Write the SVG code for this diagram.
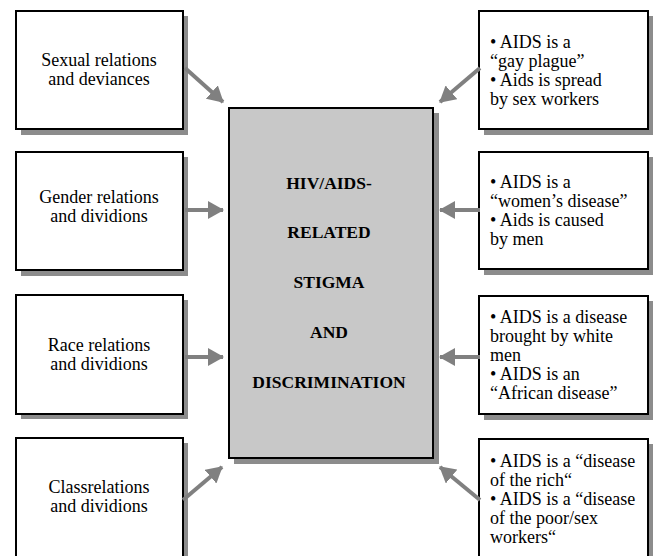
<svg xmlns="http://www.w3.org/2000/svg" width="655" height="556" viewBox="0 0 655 556">
<style>
.box{fill:#fff;stroke:#000;stroke-width:2}
.sh{fill:#8c8c8c}
.c{text-anchor:middle}
.b{font-weight:bold}
.ar{stroke:#808080;stroke-width:4;fill:none}
</style>
<defs>
<marker id="ah" markerUnits="userSpaceOnUse" markerWidth="16" markerHeight="18" refX="15" refY="9" orient="auto">
<polygon points="0,0 16,9 0,18" fill="#808080"/>
</marker>
</defs>
<rect width="655" height="556" fill="#fff"/>
<g id="center">
<rect class="sh" x="234" y="113" width="205" height="351"/>
<rect x="229" y="108" width="204" height="350" fill="#c8c8c8" stroke="#000" stroke-width="2"/>
<text font-family="Liberation Serif" font-size="17.5" class="c b" x="329" y="189">HIV/AIDS-</text>
<text font-family="Liberation Serif" font-size="17.5" class="c b" x="329" y="238">RELATED</text>
<text font-family="Liberation Serif" font-size="17.5" class="c b" x="329" y="288">STIGMA</text>
<text font-family="Liberation Serif" font-size="17.5" class="c b" x="329" y="338">AND</text>
<text font-family="Liberation Serif" font-size="17.5" class="c b" x="329" y="388">DISCRIMINATION</text>
</g>
<g id="l1">
<rect class="sh" x="21" y="16" width="167" height="119"/>
<rect class="box" x="16" y="11" width="167" height="118"/>
<text font-family="Liberation Serif" font-size="18" class="c" x="99" y="66">Sexual relations</text>
<text font-family="Liberation Serif" font-size="18" class="c" x="99" y="85">and deviances</text>
</g>
<g id="l2">
<rect class="sh" x="21" y="157" width="167" height="119"/>
<rect class="box" x="16" y="152" width="167" height="118"/>
<text font-family="Liberation Serif" font-size="18" class="c" x="99" y="203">Gender relations</text>
<text font-family="Liberation Serif" font-size="18" class="c" x="99" y="222">and dividions</text>
</g>
<g id="l3">
<rect class="sh" x="21" y="300" width="167" height="119"/>
<rect class="box" x="16" y="295" width="167" height="119"/>
<text font-family="Liberation Serif" font-size="18" class="c" x="99" y="351">Race relations</text>
<text font-family="Liberation Serif" font-size="18" class="c" x="99" y="370">and dividions</text>
</g>
<g id="l4">
<rect class="sh" x="21" y="443" width="167" height="130"/>
<rect class="box" x="16" y="438" width="167" height="130"/>
<text font-family="Liberation Serif" font-size="18" class="c" x="99" y="493">Classrelations</text>
<text font-family="Liberation Serif" font-size="18" class="c" x="99" y="512">and dividions</text>
</g>
<g id="r1">
<rect class="sh" x="484" y="16" width="169" height="119"/>
<rect class="box" x="479" y="11" width="169" height="118"/>
<text font-family="Liberation Serif" font-size="18" x="490" y="48">• AIDS is a</text>
<text font-family="Liberation Serif" font-size="18" x="490" y="67">“gay plague”</text>
<text font-family="Liberation Serif" font-size="18" x="490" y="86">• Aids is spread</text>
<text font-family="Liberation Serif" font-size="18" x="490" y="105">by sex workers</text>
</g>
<g id="r2">
<rect class="sh" x="484" y="157" width="169" height="118"/>
<rect class="box" x="479" y="152" width="169" height="117"/>
<text font-family="Liberation Serif" font-size="18" x="490" y="188">• AIDS is a</text>
<text font-family="Liberation Serif" font-size="18" x="490" y="207">“women’s disease”</text>
<text font-family="Liberation Serif" font-size="18" x="490" y="226">• Aids is caused</text>
<text font-family="Liberation Serif" font-size="18" x="490" y="245">by men</text>
</g>
<g id="r3">
<rect class="sh" x="484" y="301" width="169" height="119"/>
<rect class="box" x="479" y="296" width="169" height="118"/>
<text font-family="Liberation Serif" font-size="18" x="490" y="323">• AIDS is a disease</text>
<text font-family="Liberation Serif" font-size="18" x="490" y="342">brought by white</text>
<text font-family="Liberation Serif" font-size="18" x="490" y="361">men</text>
<text font-family="Liberation Serif" font-size="18" x="490" y="380">• AIDS is an</text>
<text font-family="Liberation Serif" font-size="18" x="490" y="399">“African disease”</text>
</g>
<g id="r4">
<rect class="sh" x="484" y="444" width="169" height="130"/>
<rect class="box" x="479" y="439" width="169" height="130"/>
<text font-family="Liberation Serif" font-size="18" x="490" y="467">• AIDS is a “disease</text>
<text font-family="Liberation Serif" font-size="18" x="490" y="486">of the rich“</text>
<text font-family="Liberation Serif" font-size="18" x="490" y="505">• AIDS is a “disease</text>
<text font-family="Liberation Serif" font-size="18" x="490" y="524">of the poor/sex</text>
<text font-family="Liberation Serif" font-size="18" x="490" y="543">workers“</text>
</g>
<g id="connectors">
<line class="ar" x1="185" y1="68" x2="223" y2="102" marker-end="url(#ah)"/>
<line class="ar" x1="185" y1="210" x2="223" y2="210" marker-end="url(#ah)"/>
<line class="ar" x1="185" y1="357" x2="223" y2="357" marker-end="url(#ah)"/>
<line class="ar" x1="183" y1="500" x2="222" y2="467" marker-end="url(#ah)"/>
<line class="ar" x1="480" y1="68" x2="440" y2="102" marker-end="url(#ah)"/>
<line class="ar" x1="480" y1="210" x2="440" y2="210" marker-end="url(#ah)"/>
<line class="ar" x1="480" y1="357" x2="440" y2="357" marker-end="url(#ah)"/>
<line class="ar" x1="480" y1="500" x2="440" y2="467" marker-end="url(#ah)"/>
</g>
</svg>
